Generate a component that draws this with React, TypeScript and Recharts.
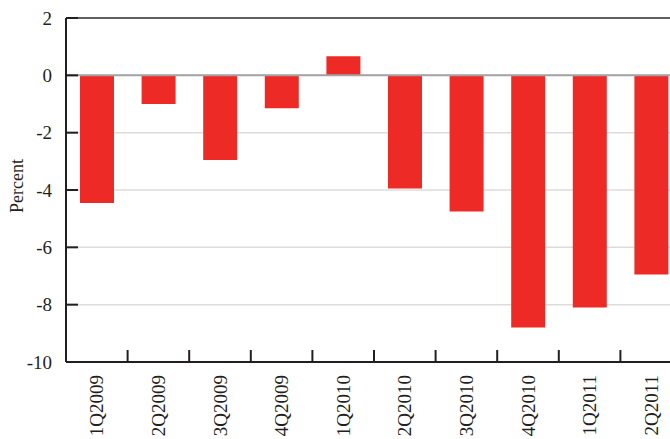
import React from "react";
import { BarChart, Bar, XAxis, YAxis, CartesianGrid, ReferenceLine } from "recharts";

const quarters = ["1Q2009", "2Q2009", "3Q2009", "4Q2009", "1Q2010", "2Q2010", "3Q2010", "4Q2010", "1Q2011", "2Q2011"];
const percentChange = [-4.45, -1.0, -2.95, -1.15, 0.67, -3.95, -4.75, -8.8, -8.1, -6.95];
const yTicks = [-10, -8, -6, -4, -2, 0, 2];

const data = quarters.map((q, i) => ({ quarter: q, value: percentChange[i] }));

const W = 700;
const H = 442;
const MARGIN = { top: 18, right: 18, bottom: 0, left: 0 };
const Y_W = 66;
const PLOT_W = W - MARGIN.left - MARGIN.right - Y_W;
const BAND = PLOT_W / quarters.length;

const INK = "#231f20";
const FONT = "Liberation Serif, DejaVu Serif, serif";

function QuarterTick(props: any) {
  const { x, y, payload } = props;
  return (
    <g>
      <line x1={x + BAND / 2} x2={x + BAND / 2} y1={y - 12} y2={y} stroke={INK} strokeWidth={2} />
      <text
        x={x}
        y={y + 13}
        transform={`rotate(-90, ${x}, ${y + 13})`}
        textAnchor="end"
        dominantBaseline="central"
        fontSize={19}
        fontFamily={FONT}
        fill={INK}
      >
        {payload.value}
      </text>
    </g>
  );
}

export default function App() {
  return (
    <div style={{ position: "fixed", left: 0, top: 0, width: 670, height: 439, overflow: "hidden", background: "#fff" }}>
      <BarChart width={W} height={H} data={data} margin={MARGIN}>
        <CartesianGrid horizontal vertical={false} stroke="#dcdcdc" strokeWidth={1.5} />
        <XAxis
          dataKey="quarter"
          height={80}
          tickSize={0}
          tickMargin={0}
          tickLine={false}
          interval={0}
          tick={<QuarterTick />}
          axisLine={{ stroke: INK, strokeWidth: 2 }}
        />
        <YAxis
          width={Y_W}
          domain={[-10, 2]}
          ticks={yTicks}
          interval={0}
          tickSize={-12}
          tickMargin={26}
          tick={{ fontSize: 19, fontFamily: FONT, fill: INK }}
          tickLine={{ stroke: INK, strokeWidth: 2 }}
          axisLine={{ stroke: INK, strokeWidth: 2 }}
        />
        <Bar dataKey="value" fill="#ee2a26" barSize={34} isAnimationActive={false} />
        <ReferenceLine y={0} stroke="#a3a3a3" strokeWidth={2} />
        <ReferenceLine y={2} stroke="#333" strokeWidth={1.5} />
      </BarChart>
      <div
        style={{
          position: "absolute",
          left: 17,
          top: 186,
          transform: "translate(-50%, -50%) rotate(-90deg)",
          fontFamily: FONT,
          fontSize: 18,
          lineHeight: "18px",
          color: INK,
          whiteSpace: "nowrap",
        }}
      >
        Percent
      </div>
    </div>
  );
}
